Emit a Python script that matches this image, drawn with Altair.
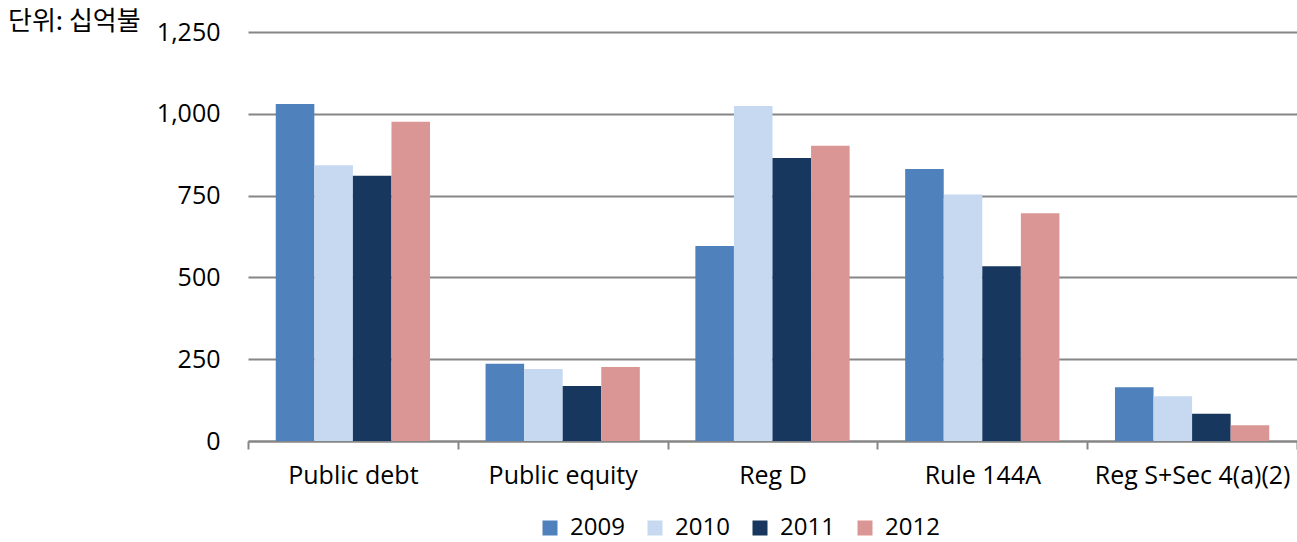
import altair as alt
import pandas as pd

categories = ["Public debt", "Public equity", "Reg D", "Rule 144A", "Reg S+Sec 4(a)(2)"]
years = ["2009", "2010", "2011", "2012"]
v2009 = [1030, 236, 596, 831, 164]
v2010 = [843, 220, 1024, 753, 137]
v2011 = [811, 168, 865, 534, 83]
v2012 = [976, 226, 902, 696, 48]
colors = ["#4F81BD", "#C6D9F1", "#17375E", "#D99694"]
y_ticks = [0, 250, 500, 750, 1000, 1250]

rows = []
for yr, vals in zip(years, [v2009, v2010, v2011, v2012]):
    for c, v in zip(categories, vals):
        rows.append({"category": c, "year": yr, "value": v})
df = pd.DataFrame(rows)

FONT = "Open Sans"
FS = 25

bars = alt.Chart(df).mark_bar().encode(
    x=alt.X("category:N", sort=categories, title=None,
            scale=alt.Scale(paddingInner=0, paddingOuter=0),
            axis=alt.Axis(labelAngle=0, tickBand="extent", tickSize=8, tickColor="#868686",
                          tickWidth=2, domainColor="#868686", domainWidth=2,
                          labelFont=FONT, labelFontSize=FS, labelColor="#000000",
                          labelPadding=14, labelLimit=400)),
    xOffset=alt.XOffset("year:N", sort=years, scale=alt.Scale(paddingInner=0, paddingOuter=0.72)),
    y=alt.Y("value:Q", title=None,
            scale=alt.Scale(domain=[0, 1250], nice=False),
            axis=alt.Axis(values=y_ticks, format=",d", domain=False, ticks=False,
                          gridColor="#868686", gridWidth=2,
                          labelFont=FONT, labelFontSize=FS, labelColor="#000000",
                          labelPadding=28)),
    color=alt.Color("year:N", sort=years, scale=alt.Scale(domain=years, range=colors),
                    legend=alt.Legend(title=None, orient="none", direction="horizontal",
                                      legendX=290, legendY=484, symbolType="square",
                                      symbolSize=225, symbolStrokeWidth=0, symbolOpacity=1,
                                      labelFont=FONT, labelFontSize=24, labelColor="#000000",
                                      columnPadding=18, labelOffset=8)),
)

unit = alt.Chart(pd.DataFrame({"t": ["단위: 십억불"]})).mark_text(
    font="Noto Sans CJK KR", fontSize=26, align="left", baseline="middle", color="#000000"
).encode(x=alt.value(-240), y=alt.value(-10), text="t:N")

chart = alt.layer(bars, unit).properties(
    width=1049, height=409,
    autosize=alt.AutoSizeParams(type="none"),
    padding={"left": 248, "top": 32, "right": 0, "bottom": 101},
).configure_view(stroke=None).configure_axis(grid=True).configure_axisX(grid=False)

chart.save("out.html", embed_options={"renderer": "svg", "actions": False})
